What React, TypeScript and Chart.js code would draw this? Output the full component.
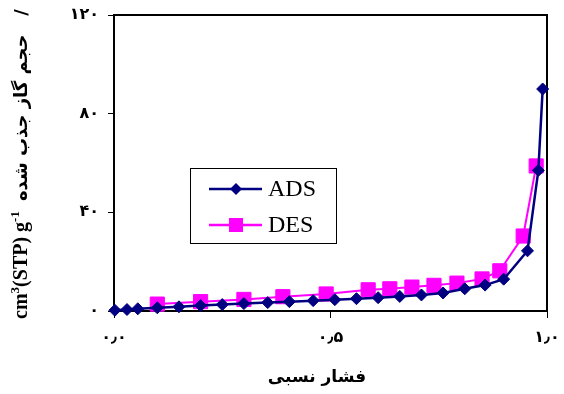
import React, { useEffect, useRef } from 'react';
import { Chart, registerables } from 'chart.js';

Chart.register(...registerables);

// ---- data ----
const seriesNames = ['ADS', 'DES'];
const adsPressure = [0.002, 0.03, 0.055, 0.1, 0.15, 0.2, 0.25, 0.3, 0.355, 0.405, 0.46, 0.51, 0.56, 0.61, 0.66, 0.71, 0.76, 0.81, 0.857, 0.9, 0.955, 0.98, 0.99];
const adsVolume = [0.3, 0.6, 0.9, 1.3, 1.7, 2.2, 2.6, 3.0, 3.4, 3.8, 4.2, 4.6, 5.0, 5.4, 5.9, 6.5, 7.3, 9.0, 10.5, 12.9, 24.4, 57, 90];
const desPressure = [0.1, 0.2, 0.3, 0.39, 0.49, 0.587, 0.637, 0.688, 0.739, 0.792, 0.85, 0.891, 0.945, 0.975];
const desVolume = [2.8, 3.8, 4.7, 5.8, 6.9, 8.6, 9.0, 9.7, 10.4, 11.3, 13.0, 16.3, 30.4, 58.8];
const xTickValues = [0, 0.5, 1];
const xTickLabels = ['۰٫۰', '۰٫۵', '۱٫۰'];
const yTickValues = [0, 40, 80, 120];
const yTickLabels = ['۰', '۴۰', '۸۰', '۱۲۰'];
const xTitle = 'فشار نسبی';
const yTitlePersian = 'حجم گاز جذب شده';

const ADS_COLOR = '#000080';
const DES_COLOR = '#FF00FF';
const TICK_FONT = { family: '"DejaVu Sans", sans-serif', size: 16, weight: 'bold' as const };

const decor = {
  id: 'decor',
  beforeDatasetsDraw(chart: any) {
    const { ctx, chartArea: a } = chart;
    ctx.save();
    ctx.strokeStyle = '#000';
    ctx.lineWidth = 2;
    ctx.strokeRect(a.left, a.top, a.right - a.left, a.bottom - a.top);
    ctx.restore();
  },
  afterDraw(chart: any) {
    const { ctx, chartArea: a } = chart;
    ctx.save();
    // x title
    ctx.fillStyle = '#000';
    ctx.font = 'bold 17px "DejaVu Sans", sans-serif';
    ctx.textAlign = 'center';
    ctx.textBaseline = 'middle';
    ctx.fillText(xTitle, 317, 378);

    // y title (rotated), pieces
    const latin = 'bold 20px "Liberation Serif", serif';
    const sup = 'bold 13px "Liberation Serif", serif';
    const pers = 'bold 18px "DejaVu Sans", sans-serif';
    const pieces = [
      { t: 'cm', f: latin, dy: 0 },
      { t: '3', f: sup, dy: -6 },
      { t: '(STP) g', f: latin, dy: 0 },
      { t: '-1', f: sup, dy: -6 },
      { t: '  ', f: latin, dy: 0 },
      { t: yTitlePersian, f: pers, dy: 0 },
      { t: '   /', f: pers, dy: 0 },
    ];
    let total = 0;
    const widths = pieces.map((p) => {
      ctx.font = p.f;
      const w = ctx.measureText(p.t).width;
      total += w;
      return w;
    });
    ctx.translate(22, 164);
    ctx.rotate(-Math.PI / 2);
    ctx.textAlign = 'left';
    ctx.textBaseline = 'middle';
    let x = -total / 2;
    pieces.forEach((p, i) => {
      ctx.font = p.f;
      ctx.fillText(p.t, x, p.dy);
      x += widths[i];
    });
    ctx.restore();

    // legend
    ctx.save();
    const bx = 190;
    const by = 168;
    ctx.fillStyle = '#fff';
    ctx.fillRect(bx, by, 146, 75);
    ctx.strokeStyle = '#000';
    ctx.lineWidth = 1;
    ctx.strokeRect(bx + 0.5, by + 0.5, 146, 75);
    const rows = [
      { name: seriesNames[0], color: ADS_COLOR, y: by + 21, shape: 'diamond' },
      { name: seriesNames[1], color: DES_COLOR, y: by + 57, shape: 'square' },
    ];
    rows.forEach((r) => {
      ctx.strokeStyle = r.color;
      ctx.fillStyle = r.color;
      ctx.lineWidth = 2.5;
      ctx.beginPath();
      ctx.moveTo(bx + 19, r.y);
      ctx.lineTo(bx + 72, r.y);
      ctx.stroke();
      const cx = bx + 46;
      ctx.beginPath();
      if (r.shape === 'diamond') {
        ctx.moveTo(cx, r.y - 6);
        ctx.lineTo(cx + 6, r.y);
        ctx.lineTo(cx, r.y + 6);
        ctx.lineTo(cx - 6, r.y);
        ctx.closePath();
      } else {
        ctx.rect(cx - 7, r.y - 7, 14, 14);
      }
      ctx.fill();
      ctx.fillStyle = '#000';
      ctx.font = '24px "Liberation Serif", serif';
      ctx.textAlign = 'left';
      ctx.textBaseline = 'middle';
      ctx.fillText(r.name, bx + 78, r.y + 1);
    });
    ctx.restore();
  },
};

export default function App() {
  const ref = useRef<HTMLCanvasElement>(null);
  useEffect(() => {
    if (!ref.current) return;
    const chart = new Chart(ref.current, {
      type: 'line',
      data: {
        datasets: [
          {
            label: seriesNames[0],
            data: adsPressure.map((p, i) => ({ x: p, y: adsVolume[i] })),
            borderColor: ADS_COLOR,
            backgroundColor: ADS_COLOR,
            borderWidth: 2.5,
            pointStyle: 'rectRot',
            pointRadius: 6,
            pointBorderWidth: 1,
            pointBackgroundColor: ADS_COLOR,
            pointBorderColor: ADS_COLOR,
            tension: 0,
            clip: false,
          },
          {
            label: seriesNames[1],
            data: desPressure.map((p, i) => ({ x: p, y: desVolume[i] })),
            borderColor: DES_COLOR,
            backgroundColor: DES_COLOR,
            borderWidth: 2,
            pointStyle: 'rect',
            pointRadius: 10,
            pointBorderWidth: 1,
            pointBackgroundColor: DES_COLOR,
            pointBorderColor: DES_COLOR,
            tension: 0,
            clip: false,
          },
        ],
      },
      options: {
        animation: false,
        responsive: false,
        devicePixelRatio: 1,
        layout: { padding: { top: 15, right: 17, left: 0, bottom: 0 } },
        plugins: { legend: { display: false }, tooltip: { enabled: false } },
        scales: {
          x: {
            type: 'linear',
            min: 0,
            max: 1,
            afterFit: (s: any) => { s.height = 83; s.paddingLeft = 0; s.paddingRight = 0; },
            afterBuildTicks: (s: any) => { s.ticks = xTickValues.map((v) => ({ value: v })); },
            ticks: {
              color: '#000',
              font: TICK_FONT,
              padding: 10,
              maxRotation: 0,
              callback: (v: any) => xTickLabels[xTickValues.indexOf(Number(v))] ?? '',
            },
            grid: { display: true, drawOnChartArea: false, drawTicks: true, tickLength: 7, color: '#000', lineWidth: 1 },
            border: { display: true, color: '#000', width: 2 },
          },
          y: {
            type: 'linear',
            min: 0,
            max: 120,
            afterFit: (s: any) => { s.width = 114; s.paddingTop = 0; s.paddingBottom = 0; },
            afterBuildTicks: (s: any) => { s.ticks = yTickValues.map((v) => ({ value: v })); },
            ticks: {
              color: '#000',
              font: TICK_FONT,
              padding: 9,
              callback: (v: any) => yTickLabels[yTickValues.indexOf(Number(v))] ?? '',
            },
            grid: { display: true, drawOnChartArea: false, drawTicks: true, tickLength: 6, color: '#000', lineWidth: 1 },
            border: { display: true, color: '#000', width: 2 },
          },
        },
      },
      plugins: [decor],
    });
    return () => chart.destroy();
  }, []);
  return (
    <div style={{ position: 'absolute', left: 0, top: 0, width: 564, height: 394, background: '#fff' }}>
      <canvas ref={ref} width={564} height={394} />
    </div>
  );
}
